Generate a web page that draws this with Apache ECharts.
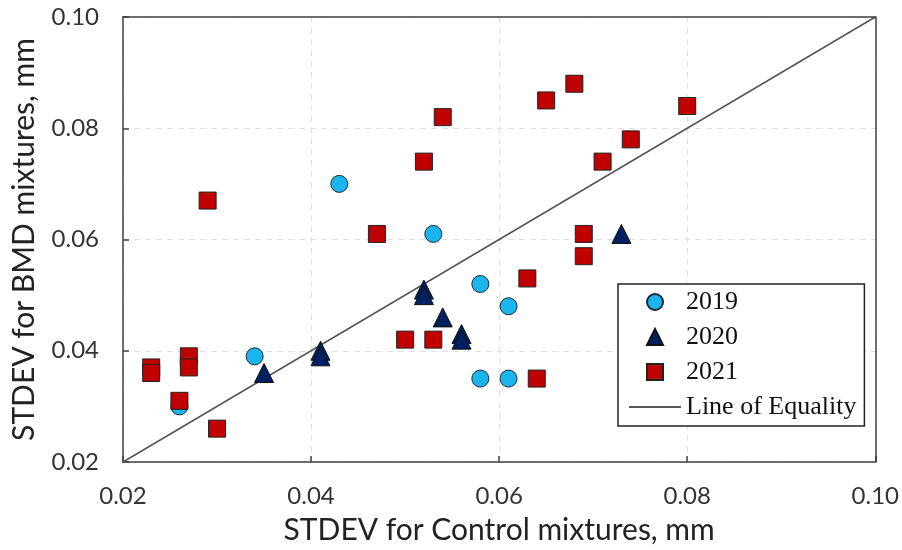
<!DOCTYPE html>
<html>
<head>
<meta charset="utf-8">
<script src="https://cdn.jsdelivr.net/npm/echarts@6/dist/echarts.min.js"></script>
<style>
  html, body { margin: 0; padding: 0; background: #fff; }
  #chart { width: 902px; height: 550px; }
</style>
</head>
<body>
<div id="chart"></div>
<script>
// 数据 [对照组STDEV, BMD组STDEV]
var data2019 = [
  [0.043, 0.070], [0.053, 0.061], [0.058, 0.052], [0.061, 0.048],
  [0.034, 0.039], [0.026, 0.030], [0.058, 0.035], [0.061, 0.035]
];
var data2020 = [
  [0.052, 0.051], [0.052, 0.050], [0.054, 0.046], [0.056, 0.043],
  [0.056, 0.042], [0.035, 0.036], [0.041, 0.040], [0.041, 0.039],
  [0.073, 0.061]
];
var data2021 = [
  [0.029, 0.067], [0.052, 0.074], [0.054, 0.082], [0.065, 0.085],
  [0.068, 0.088], [0.080, 0.084], [0.074, 0.078], [0.071, 0.074],
  [0.047, 0.061], [0.069, 0.061], [0.069, 0.057], [0.063, 0.053],
  [0.050, 0.042], [0.053, 0.042], [0.064, 0.035], [0.023, 0.037],
  [0.023, 0.036], [0.027, 0.039], [0.027, 0.037], [0.026, 0.031],
  [0.030, 0.026]
];
var equalityLine = [[0.02, 0.02], [0.10, 0.10]];
var axisTicks = [0.02, 0.04, 0.06, 0.08, 0.10];

(function () {
  var myChart = echarts.init(document.getElementById("chart"));
  var sans = "Lato";
  var axisCommon = {
    type: "value",
    min: axisTicks[0],
    max: axisTicks[axisTicks.length - 1],
    interval: 0.02,
    nameLocation: "middle",
    nameTextStyle: { fontFamily: sans, fontSize: 30, color: "#222" },
    axisLine: { show: true, lineStyle: { color: "#404040", width: 1.5 } },
    axisTick: { show: true, inside: true, length: 6, lineStyle: { color: "#404040", width: 1.5 } },
    axisLabel: {
      fontFamily: sans, fontSize: 24, color: "#333",
      formatter: function (v) { return v.toFixed(2); }
    },
    splitLine: { show: true, lineStyle: { color: "#e0e0e0", type: [6, 5], width: 1 } }
  };
  // 上边和右边的框线
  var frameAxis = {
    type: "value",
    min: axisTicks[0],
    max: axisTicks[axisTicks.length - 1],
    interval: 0.02,
    z: 3,
    axisLine: { show: true, onZero: false, lineStyle: { color: "#404040", width: 1.5 } },
    axisTick: { show: false },
    axisLabel: { show: false },
    splitLine: { show: false }
  };
  var option = {
    backgroundColor: "#fff",
    animation: false,
    grid: { left: 123, right: 25, top: 17, bottom: 87 },
    xAxis: [
      Object.assign({}, axisCommon, {
        name: "STDEV for Control mixtures, mm",
        nameGap: 53,
        axisLabel: Object.assign({}, axisCommon.axisLabel, { margin: 22 })
      }),
      Object.assign({}, frameAxis, { position: "top" })
    ],
    yAxis: [
      Object.assign({}, axisCommon, {
        name: "STDEV for BMD mixtures, mm",
        nameGap: 84,
        axisLabel: Object.assign({}, axisCommon.axisLabel, { margin: 24 })
      }),
      Object.assign({}, frameAxis, { position: "right" })
    ],
    legend: {
      orient: "vertical",
      left: 618, top: 284,
      // 图例图标用path保持比例
      data: [
        { name: "2019", icon: "circle" },
        { name: "2020", icon: "path://M5,0L10,10L0,10Z" },
        { name: "2021", icon: "path://M0,0L10,0L10,10L0,10Z" },
        { name: "Line of Equality" }
      ],
      backgroundColor: "#fff",
      borderColor: "#222", borderWidth: 1.5, borderRadius: 0,
      padding: [5, 8, 6, 10],
      itemWidth: 52, itemHeight: 16, itemGap: 9,
      symbolKeepAspect: true,
      textStyle: { fontFamily: "Liberation Serif", fontSize: 26, lineHeight: 26, color: "#111" }
    },
    series: [
      {
        name: "Line of Equality",
        type: "line",
        z: 1,
        symbol: "none",
        data: equalityLine,
        itemStyle: { opacity: 0 },
        lineStyle: { color: "#555", width: 1.5 }
      },
      {
        name: "2019",
        type: "scatter",
        symbol: "circle",
        symbolSize: 17,
        data: data2019,
        itemStyle: { color: "#19b5ec", borderColor: "#1a2a3a", borderWidth: 1, opacity: 1 }
      },
      {
        name: "2020",
        type: "scatter",
        symbol: "triangle",
        symbolSize: 19,
        data: data2020,
        itemStyle: { color: "#002060", borderColor: "#111", borderWidth: 1, opacity: 1 }
      },
      {
        name: "2021",
        type: "scatter",
        symbol: "rect",
        symbolSize: 17,
        data: data2021,
        itemStyle: { color: "#c00000", borderColor: "#222", borderWidth: 1, opacity: 1 }
      }
    ]
  };
  myChart.setOption(option);
  window.addEventListener("resize", function () {
    myChart.resize();
  });
})();
</script>
</body>
</html>
